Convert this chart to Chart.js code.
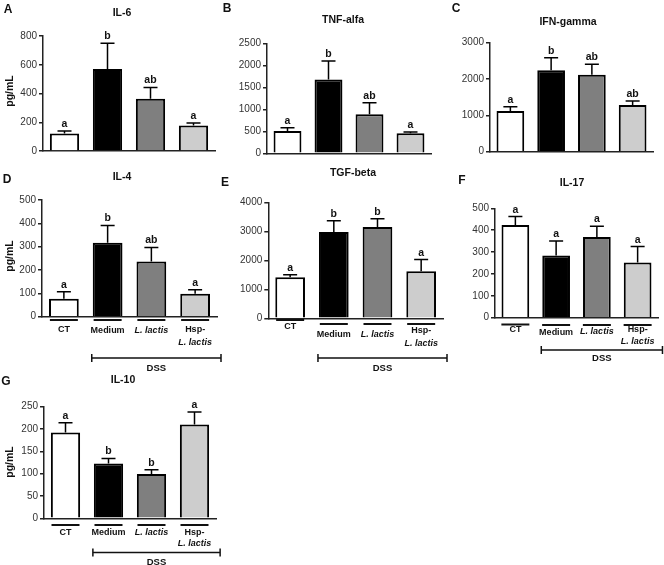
<!DOCTYPE html>
<html>
<head>
<meta charset="utf-8">
<script src="https://cdn.jsdelivr.net/npm/chart.js@4.4.1/dist/chart.umd.min.js"></script>
<style>
html, body { margin: 0; padding: 0; background: #fff; }
#fig { position: relative; width: 664px; height: 565px; overflow: hidden; }
#fig canvas { position: absolute; }
</style>
</head>
<body>
<div id="fig"></div>
<script>
// groups and bar fills
const groups = ['CT', 'Medium', 'L. lactis', 'Hsp-L. lactis'];
const barColors = ['#ffffff', '#000000', '#7f7f7f', '#cdcdcd'];

// cytokine means, SEM (pg/mL) and stats letters
const il6 = [121, 570, 363, 177];
const il6Sem = [19, 179, 79, 18];
const il6Letters = ['a', 'b', 'ab', 'a'];

const tnf = [505, 1680, 885, 455];
const tnfSem = [75, 415, 265, 30];
const tnfLetters = ['a', 'b', 'ab', 'a'];

const ifn = [1120, 2245, 2120, 1285];
const ifnSem = [120, 340, 290, 110];
const ifnLetters = ['a', 'b', 'ab', 'ab'];

const il4 = [77, 317, 236, 98];
const il4Sem = [30, 74, 61, 18];
const il4Letters = ['a', 'b', 'ab', 'a'];

const tgf = [1415, 2975, 3145, 1625];
const tgfSem = [85, 390, 285, 400];
const tgfLetters = ['a', 'b', 'b', 'a'];

const il17 = [424, 284, 369, 252];
const il17Sem = [38, 66, 49, 73];
const il17Letters = ['a', 'a', 'a', 'a'];

const il10 = [192, 123, 99, 210];
const il10Sem = [22, 11, 10, 28];
const il10Letters = ['a', 'b', 'b', 'a'];

const FONT = '"Liberation Sans", Arial, sans-serif';
const YW = 36;

// box = canvas [x, y, w, h], area = plot [left, top, right, bottom] in page px
const panels = [
  { id: 'A', title: 'IL-6', mean: il6, sem: il6Sem, letters: il6Letters, max: 800, step: 200,
    box: [0, 0, 222, 165], area: [43, 36, 215, 151], letterAt: [8, 10], titleAt: [122, 13], ylabelAt: [10, 91] },
  { id: 'B', title: 'TNF-alfa', mean: tnf, sem: tnfSem, letters: tnfLetters, max: 2500, step: 500,
    box: [220, 0, 220, 165], area: [267, 43.3, 431, 153.3], letterAt: [227, 9], titleAt: [343, 20] },
  { id: 'C', title: 'IFN-gamma', mean: ifn, sem: ifnSem, letters: ifnLetters, max: 3000, step: 1000,
    box: [440, 0, 224, 165], area: [490, 42.7, 653, 151.7], letterAt: [456, 9], titleAt: [568, 22] },
  { id: 'D', title: 'IL-4', mean: il4, sem: il4Sem, letters: il4Letters, max: 500, step: 100,
    box: [0, 165, 230, 215], area: [42, 200, 217, 316.7], letterAt: [7, 180], titleAt: [122, 177], ylabelAt: [10, 256],
    under: [320, 320, 320, 320], labelY: [330, 330.5, 330.5, 330], line2Y: 343, bracketY: 358, dssY: 368 },
  { id: 'E', title: 'TGF-beta', mean: tgf, sem: tgfSem, letters: tgfLetters, max: 4000, step: 1000,
    box: [220, 165, 235, 215], area: [268.3, 202.3, 443, 318.3], letterAt: [225, 183], titleAt: [353, 173],
    under: [320, 324, 324, 324], labelY: [326.5, 335, 335, 331], line2Y: 344, bracketY: 358, dssY: 368 },
  { id: 'F', title: 'IL-17', mean: il17, sem: il17Sem, letters: il17Letters, max: 500, step: 100,
    box: [440, 165, 224, 200], area: [495, 208.3, 658, 317.7], letterAt: [462, 181], titleAt: [572, 183],
    under: [324.5, 325, 325, 325], labelY: [330, 333, 332, 330], line2Y: 341.5, bracketY: 350, dssY: 358 },
  { id: 'G', title: 'IL-10', mean: il10, sem: il10Sem, letters: il10Letters, max: 250, step: 50,
    box: [0, 365, 230, 200], area: [44, 406.7, 216, 518.3], letterAt: [6, 382], titleAt: [123, 380], ylabelAt: [10, 462],
    under: [525, 525, 525, 525], labelY: [533, 533, 533, 533], line2Y: 543.5, bracketY: 552.5, dssY: 562 }
];

function labelLines(name) {
  if (name.startsWith('Hsp-')) return ['Hsp-', name.slice(4)];
  return [name];
}

function panelPlugin(p) {
  const ox = p.box[0], oy = p.box[1];
  return {
    id: 'panel' + p.id,
    afterDatasetsDraw(chart) {
      const ctx = chart.ctx, y = chart.scales.y;
      ctx.save();
      ctx.strokeStyle = '#000';
      ctx.lineWidth = 1.5;
      ctx.fillStyle = '#111';
      ctx.font = 'bold 10.5px ' + FONT;
      ctx.textAlign = 'center';
      chart.getDatasetMeta(0).data.forEach((bar, i) => {
        const top = y.getPixelForValue(p.mean[i] + p.sem[i]);
        ctx.beginPath();
        ctx.moveTo(bar.x, bar.y);
        ctx.lineTo(bar.x, top);
        ctx.moveTo(bar.x - 7, top);
        ctx.lineTo(bar.x + 7, top);
        ctx.stroke();
        ctx.fillText(p.letters[i], bar.x, top - 4);
      });
      ctx.restore();
    },
    afterDraw(chart) {
      const ctx = chart.ctx;
      ctx.save();
      ctx.fillStyle = '#111';
      ctx.textAlign = 'center';
      ctx.textBaseline = 'middle';
      ctx.font = 'bold 12px ' + FONT;
      ctx.fillText(p.id, p.letterAt[0] - ox, p.letterAt[1] - oy);
      ctx.font = 'bold 10.5px ' + FONT;
      ctx.fillText(p.title, p.titleAt[0] - ox, p.titleAt[1] - oy);
      if (p.ylabelAt) {
        ctx.save();
        ctx.translate(p.ylabelAt[0] - ox, p.ylabelAt[1] - oy);
        ctx.rotate(-Math.PI / 2);
        ctx.fillText('pg/mL', 0, 0);
        ctx.restore();
      }
      if (p.under) {
        const bars = chart.getDatasetMeta(0).data;
        ctx.strokeStyle = '#111';
        ctx.lineWidth = 2;
        bars.forEach((bar, i) => {
          const uy = p.under[i] - oy;
          ctx.beginPath();
          ctx.moveTo(bar.x - 14, uy);
          ctx.lineTo(bar.x + 14, uy);
          ctx.stroke();
          labelLines(groups[i]).forEach((t, k) => {
            ctx.font = (t.includes('lactis') ? 'italic bold 9px ' : 'bold 9px ') + FONT;
            ctx.fillText(t, bar.x, (k === 0 ? p.labelY[i] : p.line2Y) - oy);
          });
        });
        // DSS bracket
        const x1 = bars[1].x - bars[1].width / 2 - 1;
        const x2 = bars[3].x + bars[3].width / 2 + 11;
        const by = p.bracketY - oy;
        ctx.lineWidth = 1.5;
        ctx.beginPath();
        ctx.moveTo(x1, by); ctx.lineTo(x2, by);
        ctx.moveTo(x1, by - 4); ctx.lineTo(x1, by + 4);
        ctx.moveTo(x2, by - 4); ctx.lineTo(x2, by + 4);
        ctx.stroke();
        ctx.font = 'bold 9.5px ' + FONT;
        ctx.fillText('DSS', (x1 + x2) / 2, p.dssY - oy);
      }
      ctx.restore();
    }
  };
}

const fig = document.getElementById('fig');
panels.forEach(p => {
  const b = p.box, a = p.area;
  const cv = document.createElement('canvas');
  cv.width = b[2];
  cv.height = b[3];
  cv.style.left = b[0] + 'px';
  cv.style.top = b[1] + 'px';
  cv.style.width = b[2] + 'px';
  cv.style.height = b[3] + 'px';
  fig.appendChild(cv);

  new Chart(cv, {
    type: 'bar',
    data: {
      labels: groups,
      datasets: [{
        data: p.mean,
        backgroundColor: barColors,
        borderColor: '#000',
        borderWidth: 2,
        categoryPercentage: 1,
        barPercentage: 0.68
      }]
    },
    options: {
      responsive: false,
      animation: false,
      devicePixelRatio: 1,
      layout: {
        padding: {
          left: a[0] - b[0] - YW,
          top: a[1] - b[1],
          right: b[0] + b[2] - a[2],
          bottom: b[1] + b[3] - a[3]
        }
      },
      plugins: { legend: { display: false }, tooltip: { enabled: false } },
      scales: {
        x: {
          grid: { display: false },
          ticks: { display: false },
          border: { color: '#222', width: 1.5 },
          afterFit(s) { s.height = 0; }
        },
        y: {
          min: 0,
          max: p.max,
          ticks: {
            stepSize: p.step,
            font: { family: FONT, size: 10 },
            color: '#333',
            padding: 2,
            callback: v => String(v)
          },
          grid: { drawOnChartArea: false, drawTicks: true, tickLength: 4, color: '#222', lineWidth: 1.5 },
          border: { color: '#222', width: 1.5 },
          afterFit(s) { s.width = YW; }
        }
      }
    },
    plugins: [panelPlugin(p)]
  });
});
</script>
</body>
</html>
